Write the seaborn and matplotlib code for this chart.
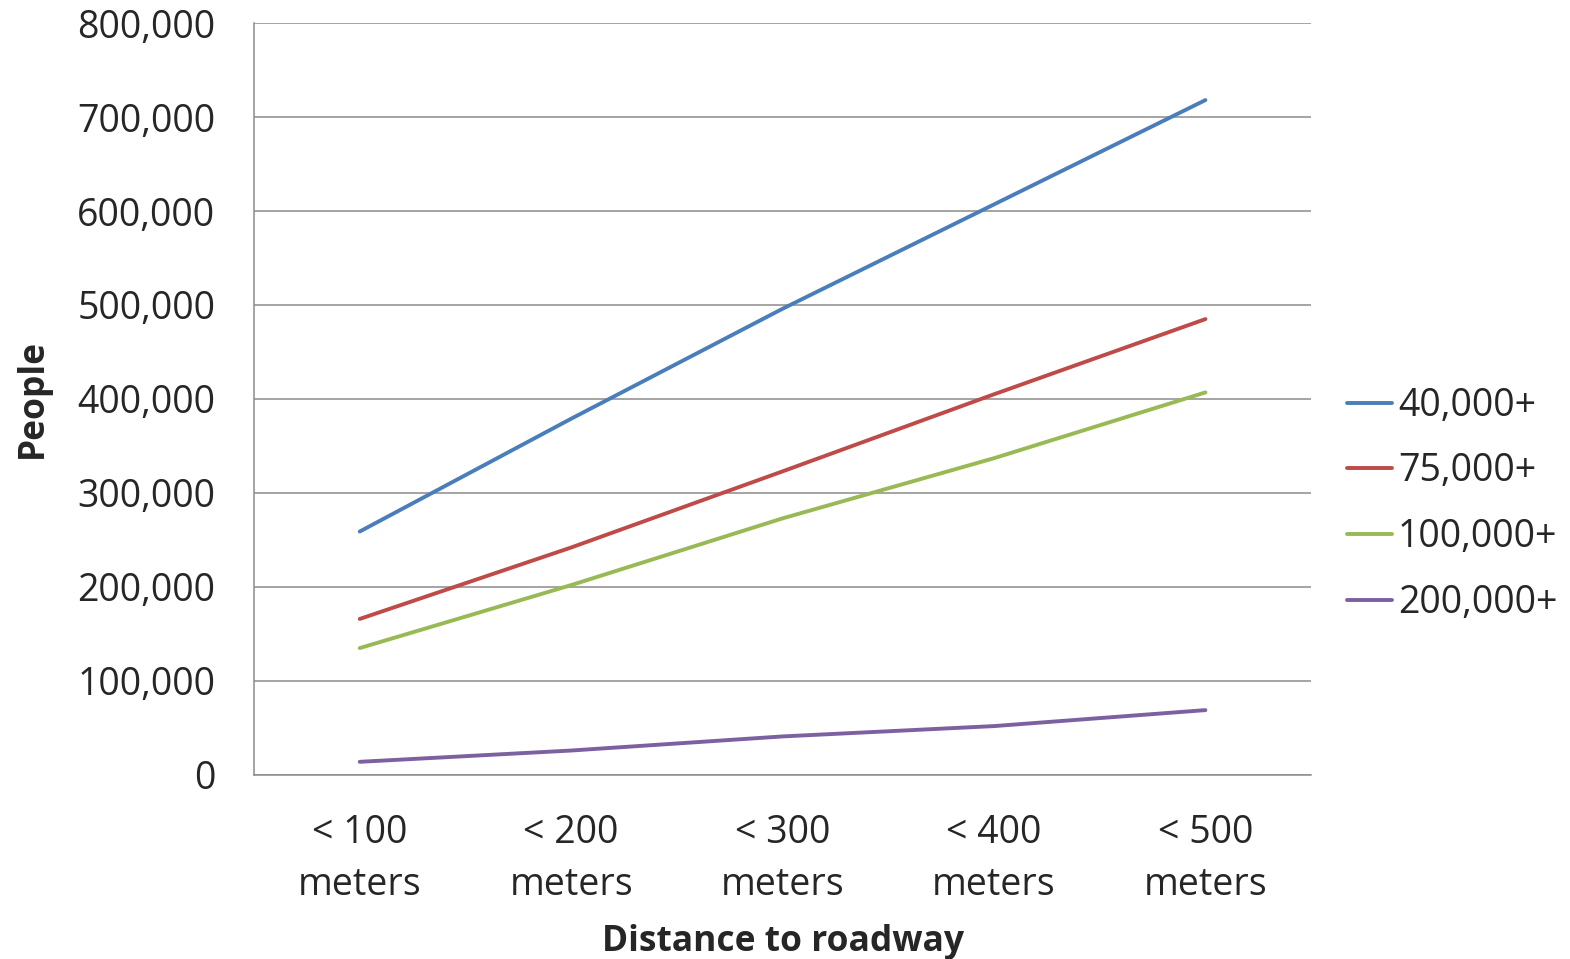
import pandas as pd
import matplotlib.pyplot as plt
import seaborn as sns
from matplotlib.ticker import FuncFormatter

# distance bands (x categories)
distances = ["< 100\nmeters", "< 200\nmeters", "< 300\nmeters", "< 400\nmeters", "< 500\nmeters"]

# people living near roads, by traffic volume (vehicles/day)
people_40k = [259000, 379000, 496000, 607000, 718000]
people_75k = [166000, 242000, 323000, 405000, 485000]
people_100k = [135000, 202000, 273000, 337000, 407000]
people_200k = [14000, 26000, 41000, 52000, 69000]

series_names = ["40,000+", "75,000+", "100,000+", "200,000+"]
colors = ["#4A7EBB", "#BE4B48", "#98B954", "#7D60A0"]


def build_frame():
    rows = []
    for name, vals in zip(series_names, [people_40k, people_75k, people_100k, people_200k]):
        for d, v in zip(distances, vals):
            rows.append({"distance": d, "people": v, "traffic": name})
    return pd.DataFrame(rows)


def plot(df):
    sns.set_style("white")
    plt.rcParams["font.family"] = ["Open Sans", "DejaVu Sans"]

    fig = plt.figure(figsize=(15.70, 9.59), dpi=100)
    ax = fig.add_axes([0.1618, 0.1919, 0.6720 + 0.0013, 0.7841])

    sns.lineplot(data=df, x="distance", y="people", hue="traffic",
                 hue_order=series_names, palette=colors, linewidth=2.8,
                 sort=False, ax=ax)

    ax.set_xlim(-0.5, 4.5)
    ax.set_ylim(0, 800000)
    ax.set_yticks(range(0, 800001, 100000))
    ax.yaxis.set_major_formatter(FuncFormatter(lambda v, _: f"{int(v):,}"))
    ax.grid(axis="y", color="#8c8c8c", linewidth=1.1)
    ax.set_axisbelow(True)

    for side in ["top", "right"]:
        ax.spines[side].set_visible(False)
    for side in ["left", "bottom"]:
        ax.spines[side].set_color("#8c8c8c")
        ax.spines[side].set_linewidth(1.1)

    ax.tick_params(axis="y", length=0, pad=28, labelsize=27)
    ax.tick_params(axis="x", length=0, pad=28, labelsize=27)
    for lbl in ax.get_xticklabels():
        lbl.set_linespacing(1.5)

    ax.set_xlabel("Distance to roadway", fontsize=25.5, fontweight="bold", labelpad=14)
    ax.set_ylabel("People", fontsize=25.5, fontweight="bold", labelpad=19)

    # legend sits a bit below the vertical middle of the plot
    ax.legend(loc="center left", bbox_to_anchor=(1.02, 0.36), frameon=False,
              fontsize=27, handlelength=1.2, handletextpad=0.15,
              labelspacing=0.74, borderaxespad=0)

    fig.savefig("out.png", dpi=100)


if __name__ == "__main__":
    df = build_frame()
    plot(df)
